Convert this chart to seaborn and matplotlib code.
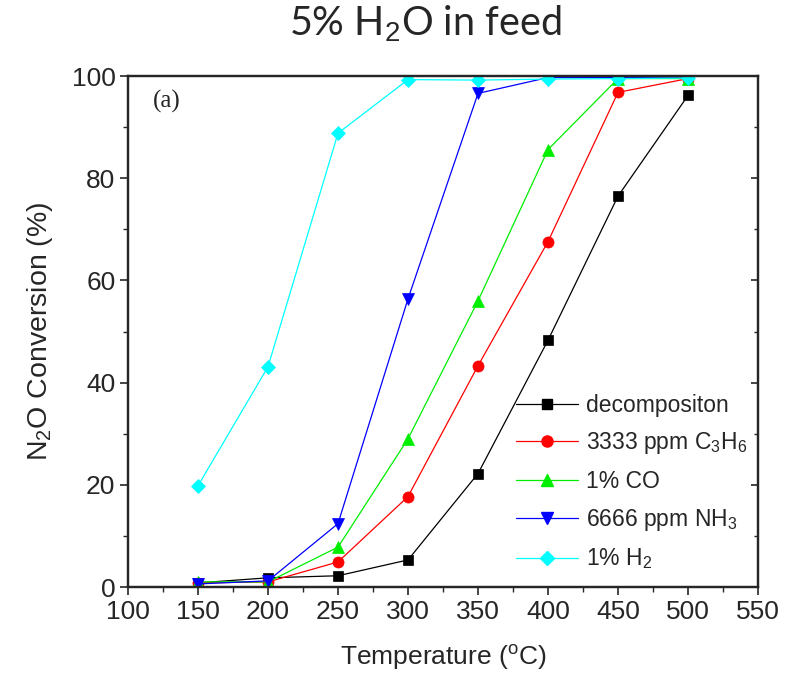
import numpy as np
import pandas as pd
import seaborn as sns
import matplotlib
matplotlib.use("Agg")
import matplotlib.pyplot as plt
from matplotlib.ticker import MultipleLocator
from matplotlib.lines import Line2D

temps = [150, 200, 250, 300, 350, 400, 450, 500]
decomp = [0.8, 1.8, 2.2, 5.3, 22.2, 48.3, 76.5, 96.2]
c3h6 = [0.8, 1.0, 4.9, 17.7, 43.3, 67.6, 96.8, 99.5]
co = [1.0, 1.0, 7.8, 29.0, 56.0, 85.6, 99.5, 99.5]
nh3 = [0.6, 1.2, 12.4, 56.4, 96.6, 99.7, 99.7, 99.8]
h2 = [19.8, 43.1, 88.8, 99.3, 99.2, 99.4, 99.5, 99.6]

labels = ["decompositon", "3333 ppm C$_3$H$_6$", "1% CO", "6666 ppm NH$_3$", "1% H$_2$"]
series = [decomp, c3h6, co, nh3, h2]
colors = ["#000000", "#ff0000", "#00ee00", "#0000ff", "#00ffff"]
markers = ["s", "o", "^", "v", "D"]

rows = []
for lab, vals in zip(labels, series):
    for t, v in zip(temps, vals):
        rows.append({"T": t, "conv": v, "series": lab})
df = pd.DataFrame(rows)

sns.set_style("ticks")
plt.rcParams["font.family"] = ["Liberation Sans", "DejaVu Sans"]
plt.rcParams["mathtext.fontset"] = "custom"
plt.rcParams["mathtext.rm"] = "Liberation Sans"
plt.rcParams["mathtext.it"] = "Liberation Sans"

fig = plt.figure(figsize=(7.88, 6.91), dpi=100)
ax = fig.add_axes([0.1624, 0.1505, 0.7996, 0.7395])

sns.lineplot(data=df, x="T", y="conv", hue="series", style="series",
             hue_order=labels, style_order=labels,
             palette=dict(zip(labels, colors)),
             markers=dict(zip(labels, markers)), dashes=False,
             markersize=8, linewidth=0.9, markeredgewidth=0.5,
             ax=ax, legend=False)
for line, m in zip(ax.get_lines(), markers):
    line.set_markeredgecolor(line.get_color())
    if m in "sD":
        line.set_markersize(7)

ax.set_xlim(100, 550)
ax.set_ylim(0, 100)
ax.xaxis.set_major_locator(MultipleLocator(50))
ax.xaxis.set_minor_locator(MultipleLocator(25))
ax.yaxis.set_major_locator(MultipleLocator(20))
ax.yaxis.set_minor_locator(MultipleLocator(10))
ax.tick_params(axis="both", which="major", labelsize=19, length=6, width=1.2, direction="out", pad=3)
ax.tick_params(axis="both", which="minor", length=3.5, width=1.0, direction="out")
for sp in ax.spines.values():
    sp.set_linewidth(1.6)
    sp.set_visible(True)

# right side inward ticks
ax2 = ax.twinx()
ax2.set_ylim(0, 100)
ax2.yaxis.set_major_locator(MultipleLocator(20))
ax2.yaxis.set_minor_locator(MultipleLocator(10))
ax2.tick_params(axis="y", which="major", direction="in", length=5, width=1.2, labelright=False)
ax2.tick_params(axis="y", which="minor", direction="in", length=3, width=1.0)
for sp in ax2.spines.values():
    sp.set_linewidth(1.6)

ax.set_xlabel("Temperature ($^{\\rm o}$C)", fontsize=19, labelpad=14)
ax.set_ylabel("N$_2$O Conversion (%)", fontsize=20.5, labelpad=12)

ax.text(0.04, 0.95, "(a)", transform=ax.transAxes, fontsize=18,
        family=["Liberation Serif"], va="center", ha="left")

fig.suptitle("5% H$_2$O in feed", fontsize=28.5, family=["Lato", "DejaVu Sans"], y=0.995, x=0.54)

handles = [Line2D([0], [0], color=c, marker=m, linewidth=0.9,
                  markersize=(7 if m in "sD" else 8), markeredgecolor=c)
           for c, m in zip(colors, markers)]
leg = ax.legend(handles, labels, loc="lower right", bbox_to_anchor=(1.015, -0.01),
                frameon=False, fontsize=16.5, handlelength=2.7, handletextpad=0.35,
                labelspacing=0.6)

fig.savefig("out.png", dpi=100)
